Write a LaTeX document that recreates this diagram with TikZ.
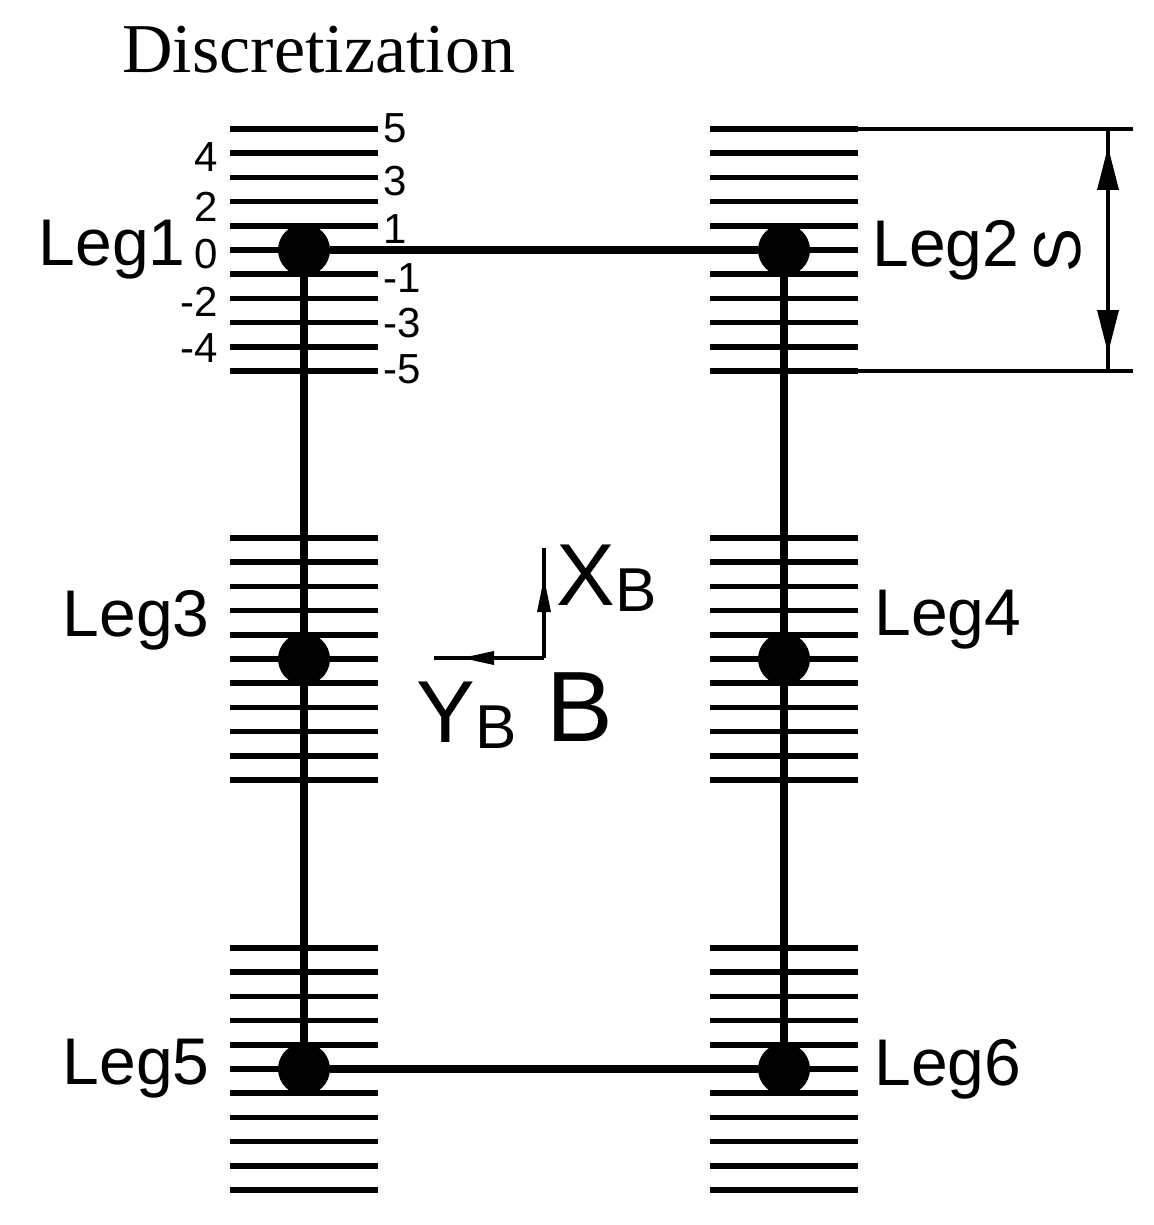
\documentclass[tikz,border=0pt]{standalone}
\usepackage{fontspec}
\setmainfont{Liberation Sans}
\newfontfamily\serif{Liberation Serif}
\begin{document}
\begin{tikzpicture}[x=0.5pt,y=-0.5pt,
  hatch/.style={line width=2.8pt},
  frame/.style={line width=3.6pt},
  dot/.style={circle,fill=black,inner sep=0pt,minimum size=26pt},
  leg/.style={font=\fontsize{33}{33}\selectfont,inner sep=0pt},
  num/.style={font=\fontsize{21}{21}\selectfont,inner sep=0pt},
  ax/.style={font=\fontsize{44}{44}\selectfont,inner sep=0pt}]
\useasboundingbox (0,0) rectangle (1154,1225);
\node[font=\serif\fontsize{35}{35}\selectfont,anchor=west,inner sep=0pt] (title) at (122,50) {Discretization};
% hatching
\foreach \cx in {304,784}{
 \foreach \cy in {250,659,1069}{
  \foreach \i in {-5,...,5}{
   \draw[hatch] (\cx-74,\cy+24.2*\i) -- (\cx+74,\cy+24.2*\i);
  }}}
% dimension
\coordinate (d1) at (858,129); \coordinate (d2) at (1133,129);
\coordinate (d3) at (858,371); \coordinate (d4) at (1133,371);
\draw[line width=2.2pt] (d1) -- (d2);
\draw[line width=2.2pt] (d3) -- (d4);
\coordinate (a1) at (1108,129); \coordinate (a2) at (1108,371);
\draw[line width=2.4pt] (a1) -- (a2);
\fill (1108,147) -- (1097,190) -- (1119,190) -- cycle;
\fill (1108,353) -- (1097,310) -- (1119,310) -- cycle;
\node[leg,rotate=90] (S) at (1058,250) {S};
% legs
\node[dot] (L1) at (304,250) {};
\node[dot] (L2) at (784,250) {};
\node[dot] (L3) at (304,659) {};
\node[dot] (L4) at (784,659) {};
\node[dot] (L5) at (304,1069) {};
\node[dot] (L6) at (784,1069) {};
\draw[frame] (L1) -- (L2);
\draw[frame] (L5) -- (L6);
\draw[frame] (L1) -- (L3) -- (L5);
\draw[frame] (L2) -- (L4) -- (L6);
\node[leg,anchor=east] (t1) at (186,250) {Leg1};
\node[leg,anchor=west] (t2) at (872,250) {Leg2};
\node[leg,anchor=east] (t3) at (210,620) {Leg3};
\node[leg,anchor=west] (t4) at (874,620) {Leg4};
\node[leg,anchor=east] (t5) at (210,1069) {Leg5};
\node[leg,anchor=west] (t6) at (874,1069) {Leg6};
% numbers
\node[num,anchor=east] (n4) at (218,157) {4};
\node[num,anchor=east] (n2) at (218,207) {2};
\node[num,anchor=east] (n0) at (218,254) {0};
\node[num,anchor=east] (nm2) at (218,302) {-2};
\node[num,anchor=east] (nm4) at (218,348) {-4};
\node[num,anchor=west] (p5) at (383,128) {5};
\node[num,anchor=west] (p3) at (383,181) {3};
\node[num,anchor=west] (p1) at (383,229) {1};
\node[num,anchor=west] (pm1) at (383,278) {-1};
\node[num,anchor=west] (pm3) at (383,323) {-3};
\node[num,anchor=west] (pm5) at (383,369) {-5};
% axes
\coordinate (O) at (544,658);
\coordinate (XE) at (544,548);
\coordinate (YE) at (434,658);
\draw[line width=1.8pt] (O) -- (XE);
\draw[line width=1.8pt] (O) -- (YE);
\fill (544,578) -- (537,612) -- (551,612) -- cycle;
\fill (462,658) -- (494,651) -- (494,665) -- cycle;
\node[ax,anchor=west] (XB) at (556,578) {X\raisebox{-3pt}{\fontsize{31}{31}\selectfont B}};
\node[ax,anchor=west] (YB) at (416,715) {Y\raisebox{-3pt}{\fontsize{31}{31}\selectfont B}};
\node[font=\fontsize{50}{50}\selectfont,inner sep=0pt] (B) at (580,707) {B};
\end{tikzpicture}
\end{document}
